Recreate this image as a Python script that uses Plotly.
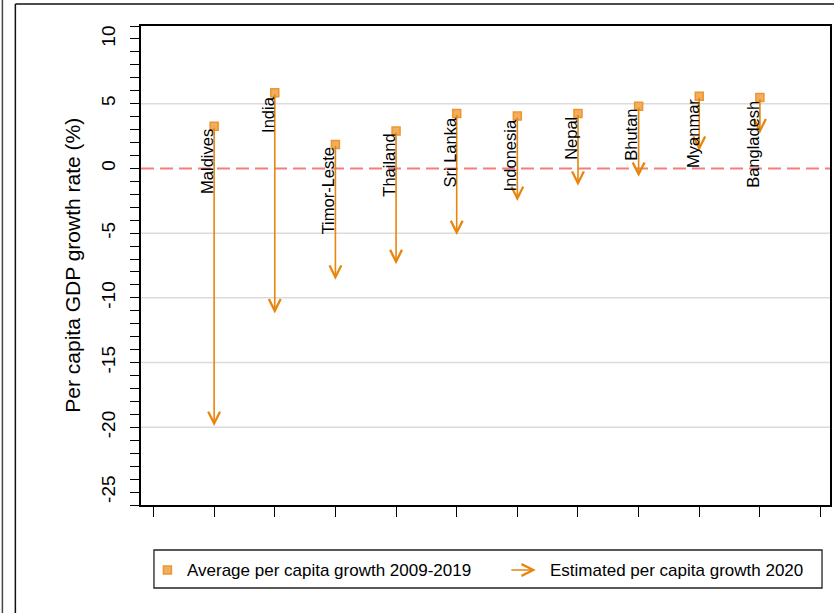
import plotly.graph_objects as go

# ---- data ----
countries = ["Maldives", "India", "Timor-Leste", "Thailand", "Sri Lanka",
             "Indonesia", "Nepal", "Bhutan", "Myanmar", "Bangladesh"]
avg_2009_2019 = [3.25, 5.85, 1.85, 2.88, 4.25, 4.04, 4.25, 4.81, 5.58, 5.48]
est_2020 = [-19.9, -11.2, -8.6, -7.4, -5.15, -2.52, -1.34, -0.65, 1.36, 2.7]
y_tick_vals = [-25, -20, -15, -10, -5, 0, 5, 10]
y_tick_text = ["-25", "-20", "-15", "-10", "-5", "0", "5", "10"]
grid_vals = [-20, -15, -10, -5, 5]
x_positions = list(range(1, len(countries) + 1))
x_tick_vals = list(range(0, len(countries) + 2))

ORANGE = "#E8850C"
MARK_FILL = "#F3AD5E"
MARK_LINE = "#EA9632"
FONT = "Liberation Sans, Arial, sans-serif"

# plot-area pixel geometry (836 x 613 canvas)
L, R, T, B = 141, 832, 26, 505
W, H = R - L, B - T


def px(xp):
    return (xp - L) / W


def py(yp):
    return (B - yp) / H


fig = go.Figure()

fig.add_trace(go.Scatter(
    x=x_positions, y=avg_2009_2019, mode="markers",
    name="Average per capita growth 2009-2019",
    marker=dict(symbol="square", size=8, color=MARK_FILL,
                line=dict(color=MARK_LINE, width=1.5)),
    showlegend=False, hoverinfo="skip"))

annotations = []
# arrows from average to 2020 estimate
for xi, a, e in zip(x_positions, avg_2009_2019, est_2020):
    annotations.append(dict(
        x=xi, y=e, ax=xi, ay=a, xref="x", yref="y", axref="x", ayref="y",
        text="", showarrow=True, arrowhead=5, arrowsize=1.45,
        arrowwidth=1.6, arrowcolor=ORANGE, standoff=0, startstandoff=0))
# country labels
for xi, a, name in zip(x_positions, avg_2009_2019, countries):
    annotations.append(dict(
        x=xi, y=a, xref="x", yref="y", text=name, showarrow=False,
        textangle=-90, xanchor="right", yanchor="top", xshift=4, yshift=-1,
        font=dict(family=FONT, size=16.5, color="black")))

# y-axis title
annotations.append(dict(
    x=px(72), y=0.5, xref="paper", yref="paper",
    text="Per capita GDP growth rate (%)", showarrow=False, textangle=-90,
    xanchor="center", yanchor="middle",
    font=dict(family=FONT, size=21, color="black")))

# legend (manual)
annotations.append(dict(
    x=px(185), y=py(570), xref="paper", yref="paper",
    text="Average per capita growth 2009-2019", showarrow=False,
    xanchor="left", yanchor="middle",
    font=dict(family=FONT, size=17, color="black")))
annotations.append(dict(
    x=px(549), y=py(570), xref="paper", yref="paper",
    text="Estimated per capita growth 2020", showarrow=False,
    xanchor="left", yanchor="middle",
    font=dict(family=FONT, size=17, color="black")))
annotations.append(dict(
    x=px(537), y=py(570), xref="paper", yref="paper", text="",
    showarrow=True, ax=-26, ay=0, arrowhead=5, arrowsize=1.45,
    arrowwidth=1.6, arrowcolor=ORANGE, standoff=0, startstandoff=0))

shapes = []
for g in grid_vals:
    shapes.append(dict(type="line", xref="paper", yref="y", x0=0, x1=1,
                       y0=g, y1=g, line=dict(color="#DCDCDC", width=1.5),
                       layer="below"))
shapes.append(dict(type="line", xref="paper", yref="y", x0=0, x1=1, y0=0, y1=0,
                   line=dict(color="#F27F7F", width=2, dash="13px,6px"),
                   layer="below"))
# legend box and marker
shapes.append(dict(type="rect", xref="paper", yref="paper",
                   x0=px(154), x1=px(824), y0=py(588), y1=py(550),
                   line=dict(color="#222222", width=1.3)))
shapes.append(dict(type="rect", xref="paper", yref="paper",
                   x0=px(163.5), x1=px(171.5), y0=py(574), y1=py(566),
                   fillcolor=MARK_FILL, line=dict(color=MARK_LINE, width=1.5)))
# outer frames
shapes.append(dict(type="line", xref="paper", yref="paper",
                   x0=px(2), x1=px(2), y0=py(0), y1=py(613),
                   line=dict(color="#444444", width=1.5)))
shapes.append(dict(type="line", xref="paper", yref="paper",
                   x0=px(15), x1=px(15), y0=py(4), y1=py(613),
                   line=dict(color="#111111", width=1.5)))
shapes.append(dict(type="line", xref="paper", yref="paper",
                   x0=px(15), x1=px(836), y0=py(4), y1=py(4),
                   line=dict(color="#111111", width=1.5)))

fig.update_layout(
    width=836, height=613,
    margin=dict(l=L, r=836 - R, t=T, b=613 - B),
    paper_bgcolor="white", plot_bgcolor="white",
    font=dict(family=FONT, color="black"),
    annotations=annotations, shapes=shapes, showlegend=False,
    xaxis=dict(range=[-0.206, 11.156], tickvals=x_tick_vals,
               showticklabels=False,
               ticks="outside", ticklen=10, tickwidth=1.3, tickcolor="black",
               showline=True, linecolor="black", linewidth=1.5, mirror=True,
               showgrid=False, zeroline=False),
    yaxis=dict(range=[-26, 11], tickvals=y_tick_vals, ticktext=y_tick_text,
               tickangle=-90, ticks="outside", ticklen=9, tickwidth=1.3,
               tickcolor="black", tickfont=dict(family=FONT, size=19),
               ticklabelstandoff=8,
               minor=dict(dtick=1, ticks="outside", ticklen=9, tickwidth=1.3,
                          tickcolor="black", showgrid=False),
               showline=True, linecolor="black", linewidth=1.5, mirror=True,
               showgrid=False, zeroline=False),
)

fig.write_html("out.html", config={"displayModeBar": False},
               post_script="document.body.style.margin='0';"
                           "document.body.style.overflow='hidden';")
